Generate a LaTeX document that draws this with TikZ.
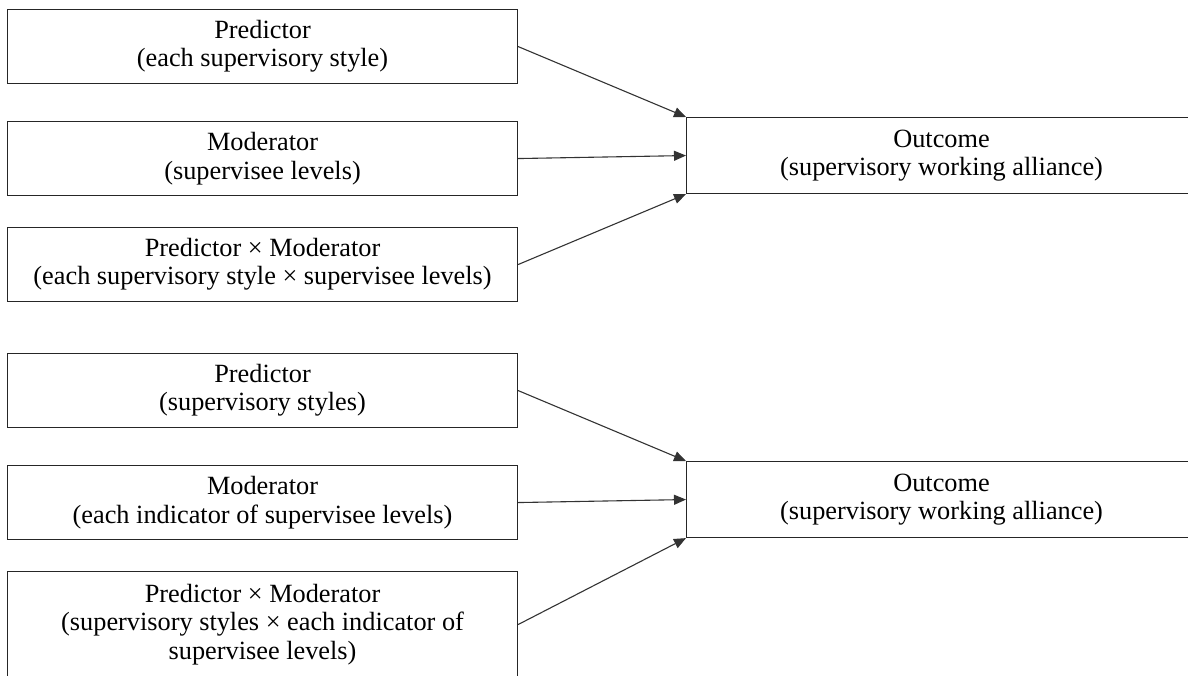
\documentclass[tikz,border=0pt]{standalone}
\usepackage{fontspec}
\setmainfont{Liberation Serif}
\usetikzlibrary{arrows.meta}
\begin{document}
\begin{tikzpicture}[x=1pt,y=-1pt,
  box/.style={draw=black!85, line width=1.1pt, minimum width=510pt, minimum height=74pt,
    inner sep=0pt, align=center, font=\fontsize{26.3pt}{28.3pt}\selectfont, anchor=north west},
  arr/.style={draw=black!80, line width=1.1pt, -{Triangle[length=12pt,width=10pt]}}]
\useasboundingbox (0,0) rectangle (1188,675);
% top model
\node[box] (p1) at (7,9) {Predictor\\(each supervisory style)};
\node[box] (m1) at (7,121) {Moderator\\(supervisee levels)};
\node[box] (i1) at (7,227) {Predictor × Moderator\\(each supervisory style × supervisee levels)};
\node[box, minimum height=76pt] (o1) at (686,117) {Outcome\\(supervisory working alliance)};
\draw[arr] (p1.east) -- (o1.north west);
\draw[arr] (m1.east) -- (o1.west);
\draw[arr] (i1.east) -- (o1.south west);
% bottom model
\node[box] (p2) at (7,353) {Predictor\\(supervisory styles)};
\node[box] (m2) at (7,465) {Moderator\\(each indicator of supervisee levels)};
\node[box, minimum height=106pt] (i2) at (7,571) {Predictor × Moderator\\(supervisory styles × each indicator of\\supervisee levels)};
\node[box, minimum height=76pt] (o2) at (686,461) {Outcome\\(supervisory working alliance)};
\draw[arr] (p2.east) -- (o2.north west);
\draw[arr] (m2.east) -- (o2.west);
\draw[arr] (i2.east) -- (o2.south west);
\end{tikzpicture}
\end{document}
